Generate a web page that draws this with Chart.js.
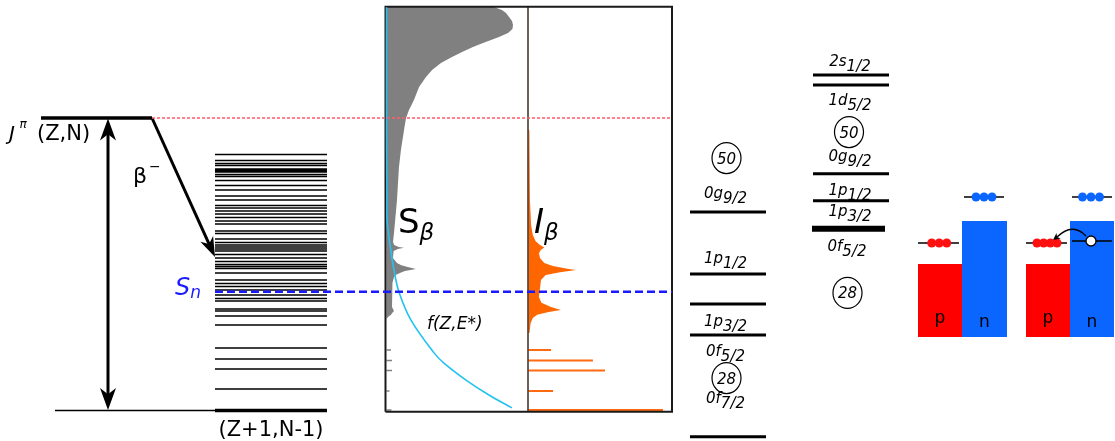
<!DOCTYPE html>
<html><head><meta charset="utf-8">
<script src="https://cdn.jsdelivr.net/npm/chart.js@4.4.1/dist/chart.umd.min.js"></script>
<style>html,body{margin:0;padding:0;background:#fff;overflow:hidden}canvas{display:block}</style>
</head><body>
<canvas id="c" width="1115" height="441"></canvas>
<script>
// ---------------- DATA (energies in MeV-like schematic units) ----------------
const Q_BETA = 10.0;
const S_N = 4.06;
const GROUND_E = 0;

// excited levels of the daughter (Z+1,N-1)
const daughterLevels = [8.752,8.547,8.444,8.376,8.256,8.205,8.154,8.068,8.000,7.863,7.692,7.538,7.333,7.197,
  7.009,6.923,6.821,6.718,6.598,6.479,6.376,6.137,6.051,5.863,5.744,5.658,5.590,5.521,5.453,5.333,5.214,
  5.094,4.991,4.923,4.855,4.701,4.462,4.342,4.239,4.120,3.949,3.829,3.744,3.470,3.402,3.231,2.923,2.137,
  1.761,1.419,0.735];

// S_beta strength distribution (percent of panel width)
const sbEnergy   = [13.795,13.692,13.59,13.453,13.316,13.18,13.043,12.906,12.769,12.667,12.564,12.427,12.256,12.085,
  11.88,11.641,11.402,11.06,10.615,10.274,10.00,9.59,8.91,8.32,7.19,6.06,5.76,5.66,5.59,5.56,5.52,5.45,5.38,5.21,
  5.04,4.97,4.91,4.84,4.77,4.70,4.63,4.56,4.36,4.12,3.78,3.54,3.47,3.40,3.33,3.27,3.20,3.15];
const sbStrength = [76.0,81.6,84.5,86.6,88.7,89.4,89.0,85.9,79.5,73.9,68.2,61.1,53.4,46.3,
  38.5,32.2,27.9,23.0,19.4,15.9,13.8,12.4,10.2,8.8,7.4,5.3,4.6,5.5,8.5,12.4,8.0,5.0,4.6,4.6,
  7.4,10.5,15.0,20.8,13.0,9.5,6.5,5.3,4.2,3.9,3.9,3.9,4.6,5.3,4.0,3.2,1.0,0.5];
const sbDiscreteE = [2.07,1.71,1.37,0.67,0.02];
const sbDiscreteS = [3.2,3.9,3.9,2.1,3.5];

// phase-space factor f(Z,E*)
const fEnergy = [13.79,9.59,7.19,6.51,5.66,4.80,4.05,3.09,1.97,1.62,1.04,0.53,0.09];
const fValue  = [0,0,0.3,0.4,2.5,5.3,8.8,17.3,33.6,40.6,56.2,72.4,88.6];

// I_beta feeding intensity (percent of panel width)
const ibEnergy    = [9.59,7.19,6.34,6.00,5.79,5.66,5.57,5.49,5.38,5.21,5.04,4.94,4.85,4.80,4.73,4.63,4.46,
  3.88,3.68,3.54,3.44,3.37,3.27,3.16,2.99,2.65];
const ibIntensity = [0.6,1.0,1.8,3.0,5.0,8.0,11.0,8.5,7.3,8.0,11.0,17.0,27.0,33.1,22.0,12.0,8.7,
  7.3,9.0,15.7,22.6,14.0,6.0,3.0,1.5,0.7];
const ibDiscreteE = [2.07,1.71,1.37,0.67,0.02];
const ibDiscreteI = [15.7,44.9,53.3,17.1,93.7];

// shell-model single-particle levels
const shellLeftLevels  = [6.79,4.67,3.64,2.58,-0.90];
const shellLeftNames   = ['0g','1p','1p','0f','0f'];
const shellLeftJ       = ['9/2','1/2','3/2','5/2','7/2'];
const shellLeftLabelE  = [7.37,5.15,2.99,1.97,0.36];
const shellLeftMagic   = ['50','28'];
const shellLeftMagicE  = [8.63,1.11];
const shellRightLevels = [11.47,11.13,8.09,7.17];
const shellRightThick  = [6.21];
const shellRightNames  = ['2s','1d','0g','1p','1p','0f'];
const shellRightJ      = ['1/2','5/2','9/2','1/2','3/2','5/2'];
const shellRightLabelE = [11.88,10.55,8.63,7.47,6.75,5.56];
const shellRightMagic  = ['50','28'];
const shellRightMagicE = [9.52,4.02];

// p / n Fermi-sea schematic
const seaBottomE = 2.513;
const protonSeaE = 5.009;
const neutronSeaE = 6.479;
const protonValenceE = 5.726;
const neutronValenceE = 7.299;
const neutronHoleE = 5.795;
const protonsBefore = 3, protonsAfter = 4, neutronsValence = 3;

// ---------------- LAYOUT (positions / styles, not data) ----------------
const W = 1115, H = 441;
const Y_MIN = -30.5/29.25, Y_MAX = 410.5/29.25;
const L = {
  parentX:[41,152], groundThinX:[55,215], daughterX:[215,327], arrowX:108,
  betaFromX:152, betaToX:215, betaToE:5.248,
  box:{left:385.5, right:672, divider:528, top:13.805, bottom:-0.041},
  sb:{left:386.5, width:141.5}, ib:{left:528.5, width:143.5},
  redX:[152,672], blueX:[215,672],
  shL:[690,766], shR:[813,889], shRThick:[812,885], shLc:725.5, shRc:850,
  pnBefore:{p:[918,962], n:[962,1007], pLine:[918,959], nLine:[964,1004], pDots:[939.2,7.5], nDots:[984,8]},
  pnAfter:{p:[1026,1070], n:[1070,1114], pLine:[1026,1067], nLine:[1072,1112], holeLine:[1072,1112], pDots:[1047,6.7], nDots:[1091,8.5], hole:1091}
};
const FONT = "'DejaVu Sans'";

const pts = (xs, ys) => xs.map((x,i)=>({x, y: ys[i]}));
function hSegs(levels, x1, x2){ const o=[]; levels.forEach(E=>{o.push({x:x1,y:E},{x:x2,y:E},{x:null,y:null});}); return o; }
function stubs(es, vs){ const o=[]; es.forEach((E,i)=>{o.push({x:0,y:E},{x:vs[i],y:E},{x:null,y:null});}); return o; }
function rect(x1,x2,e1,e2){ return [{x:x1,y:e1},{x:x2,y:e1},{x:x2,y:e2},{x:x1,y:e2},{x:x1,y:e1}]; }
function dots(n, c, sp, E){ const o=[]; for(let i=0;i<n;i++) o.push({x:c+(i-(n-1)/2)*sp, y:E}); return o; }

const base = {type:'line', pointRadius:0, fill:false, tension:0, spanGaps:false, borderCapStyle:'butt', xAxisID:'x', yAxisID:'y'};
const ds = (o)=>Object.assign({}, base, o);

const sbShape = pts(sbStrength, sbEnergy).concat([{x:0,y:sbEnergy[sbEnergy.length-1]},{x:0,y:sbEnergy[0]}]);
const ibShape = pts(ibIntensity, ibEnergy).concat([{x:0,y:ibEnergy[ibEnergy.length-1]},{x:0,y:ibEnergy[0]}]);

const datasets = [
  ds({data:sbShape, xAxisID:'xs', fill:'shape', backgroundColor:'#808080', borderWidth:0, order:20}),
  ds({data:stubs(sbDiscreteE, sbDiscreteS), xAxisID:'xs', borderColor:'#808080', borderWidth:1.5, order:19}),
  ds({data:ibShape, xAxisID:'xi', fill:'shape', backgroundColor:'#ff6600', borderWidth:0, order:20}),
  ds({data:stubs(ibDiscreteE, ibDiscreteI), xAxisID:'xi', borderColor:'#ff6a10', borderWidth:2, order:19}),
  // p/n seas
  ds({data:rect(L.pnBefore.p[0],L.pnBefore.p[1],seaBottomE,protonSeaE), fill:'shape', backgroundColor:'#ff0000', borderWidth:0, order:20}),
  ds({data:rect(L.pnBefore.n[0],L.pnBefore.n[1],seaBottomE,neutronSeaE), fill:'shape', backgroundColor:'#0a66ff', borderWidth:0, order:20}),
  ds({data:rect(L.pnAfter.p[0],L.pnAfter.p[1],seaBottomE,protonSeaE), fill:'shape', backgroundColor:'#ff0000', borderWidth:0, order:20}),
  ds({data:rect(L.pnAfter.n[0],L.pnAfter.n[1],seaBottomE,neutronSeaE), fill:'shape', backgroundColor:'#0a66ff', borderWidth:0, order:20}),
  // panel frame
  ds({data:rect(L.box.left,L.box.right,L.box.bottom,L.box.top), borderColor:'#1a1a1a', borderWidth:2, borderJoinStyle:'miter', order:6}),
  ds({data:[{x:L.box.divider,y:L.box.bottom},{x:L.box.divider,y:L.box.top}], borderColor:'#3d2b1f', borderWidth:1.5, order:6}),
  // level scheme
  ds({data:hSegs([Q_BETA], L.parentX[0], L.parentX[1]), borderColor:'#000', borderWidth:3.4, order:5}),
  ds({data:hSegs([GROUND_E], L.groundThinX[0], L.groundThinX[1]), borderColor:'#000', borderWidth:1.5, order:5}),
  ds({data:hSegs([GROUND_E], L.daughterX[0], L.daughterX[1]), borderColor:'#000', borderWidth:3.4, order:5}),
  ds({data:hSegs(daughterLevels, L.daughterX[0], L.daughterX[1]), borderColor:'#000', borderWidth:1.7, order:5}),
  ds({data:[{x:L.arrowX,y:Q_BETA-0.5},{x:L.arrowX,y:GROUND_E+0.5}], borderColor:'#000', borderWidth:3, order:5}),
  ds({data:[{x:L.betaFromX,y:Q_BETA},{x:L.betaToX-3.5,y:L.betaToE+0.26}], borderColor:'#000', borderWidth:3, order:5}),
  // shell model
  ds({data:hSegs(shellLeftLevels, L.shL[0], L.shL[1]), borderColor:'#000', borderWidth:3, order:5}),
  ds({data:hSegs(shellRightLevels, L.shR[0], L.shR[1]), borderColor:'#000', borderWidth:3, order:5}),
  ds({data:hSegs(shellRightThick, L.shRThick[0], L.shRThick[1]), borderColor:'#000', borderWidth:6, order:5}),
  // pn levels
  ds({data:hSegs([protonValenceE], L.pnBefore.pLine[0], L.pnBefore.pLine[1]).concat(hSegs([neutronValenceE], L.pnBefore.nLine[0], L.pnBefore.nLine[1]))
      .concat(hSegs([protonValenceE], L.pnAfter.pLine[0], L.pnAfter.pLine[1])).concat(hSegs([neutronValenceE], L.pnAfter.nLine[0], L.pnAfter.nLine[1]))
      .concat(hSegs([neutronHoleE], L.pnAfter.holeLine[0], L.pnAfter.holeLine[1])), borderColor:'#000', borderWidth:1.6, order:4}),
  // f(Z,E*)
  ds({data:pts(fValue, fEnergy), xAxisID:'xs', borderColor:'#22c2ee', borderWidth:1.6, tension:0.35, order:3}),
  // Q and Sn lines
  ds({data:hSegs([Q_BETA], L.redX[0], L.redX[1]), borderColor:'#ff5a6a', borderWidth:1.5, borderDash:[3,2], order:2}),
  ds({data:hSegs([S_N], L.blueX[0], L.blueX[1]), borderColor:'#1a1aff', borderWidth:2.5, borderDash:[8,4], order:2}),
  // nucleons
  {type:'scatter', data:dots(protonsBefore, L.pnBefore.pDots[0], L.pnBefore.pDots[1], protonValenceE).concat(dots(protonsAfter, L.pnAfter.pDots[0], L.pnAfter.pDots[1], protonValenceE)),
   pointRadius:4.5, pointBackgroundColor:'#ff1010', pointBorderWidth:0, showLine:false, xAxisID:'x', yAxisID:'y', order:1},
  {type:'scatter', data:dots(neutronsValence, L.pnBefore.nDots[0], L.pnBefore.nDots[1], neutronValenceE).concat(dots(neutronsValence, L.pnAfter.nDots[0], L.pnAfter.nDots[1], neutronValenceE)),
   pointRadius:4.5, pointBackgroundColor:'#0a66ff', pointBorderWidth:0, showLine:false, xAxisID:'x', yAxisID:'y', order:1},
  {type:'scatter', data:[{x:L.pnAfter.hole, y:neutronHoleE}], pointRadius:5, pointBackgroundColor:'#fff', pointBorderColor:'#000', pointBorderWidth:1.3, showLine:false, xAxisID:'x', yAxisID:'y', order:0}
];

function arrowHead(ctx, tx, ty, dx, dy, len, half){
  const n = Math.hypot(dx,dy); dx/=n; dy/=n; const px=-dy, py=dx;
  ctx.beginPath();
  ctx.moveTo(tx,ty);
  ctx.lineTo(tx-dx*len+px*half, ty-dy*len+py*half);
  ctx.lineTo(tx-dx*len*0.72, ty-dy*len*0.72);
  ctx.lineTo(tx-dx*len-px*half, ty-dy*len-py*half);
  ctx.closePath(); ctx.fill();
}
function rich(ctx, parts, x, y, align){
  let w=0; parts.forEach(p=>{ctx.font=p[1]; p.w=ctx.measureText(p[0]).width; w+=p.w;});
  let cx = align==='center' ? x-w/2 : x;
  parts.forEach(p=>{ctx.font=p[1]; ctx.fillText(p[0], cx, y+(p[2]||0)); cx+=p.w;});
}

const drawPlugin = {
  id:'schematic',
  afterDatasetsDraw(chart){
    const ctx = chart.ctx, X = v=>chart.scales.x.getPixelForValue(v), Y = e=>chart.scales.y.getPixelForValue(e);
    ctx.save();
    ctx.fillStyle='#000'; ctx.textBaseline='alphabetic';
    // arrows
    arrowHead(ctx, X(L.arrowX), Y(Q_BETA)+0.5, 0, -1, 22, 8);
    arrowHead(ctx, X(L.arrowX), Y(GROUND_E)-0.5, 0, 1, 22, 8);
    const bx0=X(L.betaFromX), by0=Y(Q_BETA), bx1=X(L.betaToX), by1=Y(L.betaToE);
    arrowHead(ctx, bx1, by1, bx1-bx0, by1-by0, 20, 7);
    // texts left
    const it = s=>'italic '+s+'px '+FONT, rg = s=>s+'px '+FONT;
    const yQ = Y(Q_BETA), yS = Y(S_N), y0 = Y(GROUND_E);
    rich(ctx, [['J', it(20)]], X(9), yQ+22, 'left');
    rich(ctx, [['π', it(12)]], X(19.5), yQ+10, 'left');
    rich(ctx, [['(Z,N)', rg(21)]], X(37), yQ+22, 'left');
    rich(ctx, [['β', rg(22)]], X(133), yQ+64.5, 'left');
    rich(ctx, [['−', rg(14)]], X(149), yQ+53, 'left');
    rich(ctx, [['(Z+1,N-1)', rg(21)]], X(271), y0+25.5, 'center');
    ctx.fillStyle='#1a1aff';
    rich(ctx, [['S', it(24)], ['n', it(17), 3]], X(175), yS+3.3, 'left');
    ctx.fillStyle='#000';
    rich(ctx, [['S', rg(34)], ['β', it(23), 7]], X(398), yS-58.7, 'left');
    rich(ctx, [['I', it(34)], ['β', it(23), 7]], X(534), yS-58.7, 'left');
    rich(ctx, [['f(Z,E*)', it(17)]], X(427), yS+37.3, 'left');
    // shell labels
    shellLeftLabelE.forEach((E,i)=>rich(ctx, [[shellLeftNames[i], it(15)], [shellLeftJ[i], it(15), 5]], X(L.shLc), Y(E)+3, 'center'));
    shellRightLabelE.forEach((E,i)=>rich(ctx, [[shellRightNames[i], it(15)], [shellRightJ[i], it(15), 5]], X(i===5?L.shRc-3:L.shRc), Y(E)+3, 'center'));
    const magic = (txt, cx, E)=>{
      ctx.beginPath(); ctx.lineWidth=1.2; ctx.strokeStyle='#000';
      ctx.ellipse(cx, Y(E), 14.5, 15.5, 0, 0, Math.PI*2); ctx.stroke();
      rich(ctx, [[txt, it(15)]], cx, Y(E)+5.5, 'center');
    };
    shellLeftMagicE.forEach((E,i)=>magic(shellLeftMagic[i], X(L.shLc+1), E));
    shellRightMagicE.forEach((E,i)=>magic(shellRightMagic[i], X(L.shRc-1-(i*1.5)), E));
    // p/n letters
    const yb = Y(seaBottomE);
    [[L.pnBefore.p,'p',-14],[L.pnBefore.n,'n',-10],[L.pnAfter.p,'p',-14],[L.pnAfter.n,'n',-10]].forEach(a=>{
      rich(ctx, [[a[1], rg(17)]], X((a[0][0]+a[0][1])/2), yb+a[2], 'center');
    });
    // curved arrow: neutron -> proton
    const hx = X(L.pnAfter.hole), hy = Y(neutronHoleE);
    ctx.beginPath(); ctx.lineWidth=1.4; ctx.strokeStyle='#000';
    ctx.moveTo(hx-5, hy-5); ctx.quadraticCurveTo(hx-18, hy-19, hx-34, hy-4); ctx.stroke();
    arrowHead(ctx, hx-38, hy-1, -4, 3, 7, 3.5);
    ctx.restore();
  }
};

const xsMin = -L.sb.left/(L.sb.width/100), xsMax = (W-L.sb.left)/(L.sb.width/100);
const xiMin = -L.ib.left/(L.ib.width/100), xiMax = (W-L.ib.left)/(L.ib.width/100);

new Chart(document.getElementById('c'), {
  type:'line',
  data:{datasets},
  options:{
    responsive:false, animation:false, devicePixelRatio:1, events:[],
    layout:{padding:0, autoPadding:false},
    plugins:{legend:{display:false}, tooltip:{enabled:false}},
    scales:{
      x:{type:'linear', min:0, max:W, display:false, bounds:'data'},
      xs:{type:'linear', axis:'x', min:xsMin, max:xsMax, display:false, bounds:'data'},
      xi:{type:'linear', axis:'x', min:xiMin, max:xiMax, display:false, bounds:'data'},
      y:{type:'linear', min:Y_MIN, max:Y_MAX, display:false, bounds:'data'}
    }
  },
  plugins:[drawPlugin]
});
</script>
</body></html>
